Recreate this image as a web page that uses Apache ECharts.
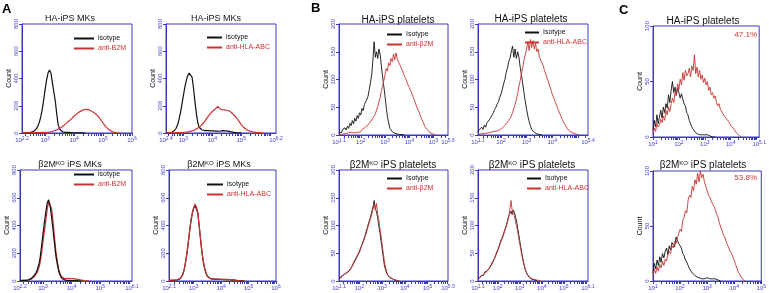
<!DOCTYPE html>
<html>
<head>
<meta charset="utf-8">
<script src="https://cdn.jsdelivr.net/npm/echarts@6/dist/echarts.min.js"></script>
<style>
html, body { margin: 0; background: #fff; }
#chart { width: 769px; height: 293px; }
</style>
</head>
<body>
<div id="chart"></div>
<script>
// histogram counts, one value per 0.05-decade bin, starting at the given log10 position
const BIN = 0.05

const a1Iso = [1,1,2,2,3,3,5,8,12,20,32,52,80,120,175,245,320,390,440,462,440,370,300,235,140,60,28,15,9,6,5,4,4,3,3,3,2,3,2,2,1,2,1,1,0]
const a1Anti = [1,1,2,1,2,2,2,3,2,3,3,4,3,4,4,5,5,6,6,7,8,11,15,18,23,27,33,40,48,56,65,74,85,96,102,116,125,132,142,148,157,160,168,166,174,168,172,162,160,152,148,138,130,116,105,88,72,58,45,34,25,18,12,7,4,2,1,1,0]
const a2Iso = [1,2,2,3,5,10,20,35,60,100,150,210,275,335,385,420,440,445,410,330,230,140,75,40,28,22,20,18,20,17,19,16,18,15,17,14,16,13,15,18,14,16,12,14,10,8,6,5,3,2,2,1,1]
const a2Anti = [0,1,1,1,2,1,2,2,3,2,3,3,4,5,6,8,10,12,15,18,23,30,37,44,52,62,75,90,105,120,135,148,158,168,176,182,196,178,190,172,185,168,178,165,168,152,145,132,120,108,92,78,62,50,38,28,22,17,14,10,8,6,5,4,3,2,1,0]
const a3Iso = [3,5,4,6,5,7,8,12,20,30,42,58,80,115,165,250,340,420,500,565,585,540,460,370,270,180,120,70,40,22,12,8,6,5,4,4,3,3,2,2,2,1,1,0]
const a3Anti = [2,3,4,3,5,6,7,9,14,22,32,45,62,90,130,195,280,360,440,520,570,580,520,430,320,215,140,85,50,30,22,18,22,20,24,18,22,17,20,14,16,10,8,6,4,3,2,1,1,0]
const a4Iso = [3,5,4,6,5,7,8,11,15,25,45,80,130,195,270,360,430,490,525,545,540,490,400,300,210,140,90,55,35,24,18,15,14,16,13,15,12,14,12,13,11,12,10,11,9,10,8,7,6,4,3,2,2,1,1,0]
const a4Anti = [4,3,6,5,7,6,9,10,16,24,48,78,135,190,275,355,440,485,530,555,535,495,395,305,205,145,88,58,33,25,17,16,13,15,14,14,13,13,11,14,10,12,11,10,10,9,9,6,7,5,3,3,1,2,0]

const b1Iso = [5,8,4,10,7,13,9,16,12,21,17,26,20,30,25,35,30,40,36,48,44,55,52,64,70,82,95,108,135,168,140,150,138,155,145,125,105,88,70,50,33,22,12,9,6,5,3,4,2,3,1,2,1,1,0]
const b1Anti = [1,2,1,3,2,1,3,2,4,2,5,3,4,6,4,7,5,8,6,10,9,13,11,16,15,21,20,27,26,34,38,45,52,60,68,80,88,98,108,120,115,130,125,138,132,146,135,148,138,132,128,122,118,112,106,102,96,90,86,80,76,70,64,58,52,46,42,36,30,25,20,15,12,9,6,5,3,2,1,1,0]
const b2Iso = [6,10,7,14,10,18,14,22,19,28,26,36,40,46,50,56,60,68,74,82,92,100,112,120,132,138,150,160,140,155,138,150,140,122,108,92,75,60,46,34,24,16,10,7,5,3,2,2,1,1,0]
const b2Anti = [2,3,2,4,3,5,3,6,4,6,5,7,6,8,7,9,8,10,11,13,15,17,20,22,26,28,34,40,48,55,64,75,88,98,112,122,135,145,155,168,152,172,158,170,155,165,150,155,140,138,130,125,116,110,102,96,88,82,74,68,62,56,50,44,38,33,28,23,19,15,11,8,6,5,4,3,2,1,1,0]
const b3Iso = [5,8,6,10,8,12,10,15,13,18,20,24,28,32,36,40,44,48,52,58,64,70,76,82,90,96,104,110,118,126,134,145,130,125,115,100,88,72,58,42,28,20,14,10,8,6,5,4,3,2,2,1,1,0]
const b3Anti = [4,6,9,7,11,9,14,12,17,19,22,26,30,33,38,42,46,50,54,60,62,68,74,80,86,94,100,108,114,122,130,138,128,140,122,110,96,82,66,50,36,25,16,11,8,6,5,4,3,2,2,1,1,0]
const b4Iso = [5,8,6,10,12,10,16,14,18,16,22,24,28,32,36,42,46,52,56,62,68,74,78,84,90,96,102,110,118,122,126,120,128,124,116,108,96,84,72,60,48,38,28,20,15,11,8,6,4,3,2,2,1,1,0]
const b4Anti = [3,5,8,6,10,12,14,12,17,20,23,26,30,34,37,40,45,50,55,60,66,72,76,82,88,95,100,108,116,130,145,128,122,118,108,100,90,78,66,56,45,36,28,21,16,12,9,7,5,4,3,3,2,2,1,1,1,0]

const c1Iso = [6,15,9,20,12,18,24,17,27,22,30,26,38,31,42,50,40,45,38,44,40,35,39,34,30,28,22,20,15,12,9,7,5,4,3,3,2,3,2,1,2,1,2,1,1,1,0,1,0]
const c1Anti = [3,8,5,12,9,11,16,13,19,15,24,20,27,23,30,35,31,40,37,48,43,52,47,58,51,60,55,57,62,54,64,60,74,57,63,54,60,52,56,49,53,47,50,42,45,38,40,35,37,31,28,30,25,26,21,19,20,16,17,13,10,11,8,6,5,3,2,1,0]
const c2Iso = [7,16,11,19,14,22,17,25,21,27,30,24,32,28,35,36,31,40,37,34,32,30,25,23,19,17,14,11,9,8,6,5,4,4,3,3,2,3,2,2,3,2,2,1,2,1,2,1,1,1,0]
const c2Anti = [4,11,7,13,9,15,12,18,14,20,18,24,27,25,32,30,36,34,39,43,47,45,55,58,64,62,74,78,76,86,82,92,88,98,90,100,94,97,90,86,82,78,76,73,70,68,65,61,58,53,49,46,42,40,36,33,30,27,25,22,19,15,12,8,6,4,2,1,0]

const BLUE = '#3a3abf'
const LABEL = '#4444cc'
const RED = '#cc3333'
const BLACK = '#111111'
const FONT = 'Liberation Sans, Arial, sans-serif'

const KO = '\u03b22M{sup|KO} iPS '

// layout of each small plot: grid box [left, top, width, height]
const panels = [
    { box: [22, 24, 110, 109], x: [2.2, 6], ticks: [2.2, 3, 4, 5, 6], y: [800, 200], title: 'HA-iPS MKs', tx: 70, ty: 19, tf: 9,
      legend: ['isotype', 'anti-B2M'], lx: 74, ly: 35, lw: 20, w: 1.2 },
    { box: [166, 24, 110, 109], x: [2.4, 6.2], ticks: [2.4, 3, 4, 5, 6.2], y: [800, 200], title: 'HA-iPS MKs', tx: 216, ty: 19, tf: 9,
      legend: ['isotype', 'anti-HLA-ABC'], lx: 207, ly: 34, lw: 15, w: 1.2 },
    { box: [20, 170, 112, 111], x: [2.2, 6.1], ticks: [2.2, 3, 4, 5, 6.1], y: [800, 200], title: KO + 'MKs', tx: 70, ty: 165, tf: 9,
      legend: ['isotype', 'anti-B2M'], lx: 74, ly: 171, lw: 20, w: 1.2 },
    { box: [169, 170, 107, 111], x: [2.1, 6], ticks: [2.1, 3, 4, 5, 6], y: [800, 200], title: KO + 'MKs', tx: 219, ty: 165, tf: 9,
      legend: ['isotype', 'anti-HLA-ABC'], lx: 207, ly: 181, lw: 16, w: 1.2 },
    { box: [339, 24, 109, 111], x: [1.1, 5.6], ticks: [1.1, 2, 3, 4, 5, 5.6], y: [200, 50], title: 'HA-iPS platelets', tx: 398, ty: 20, tf: 10,
      legend: ['Isotype', 'anti-\u03b22M'], lx: 387, ly: 31, lw: 15, w: 0.9 },
    { box: [478, 24, 110, 111], x: [1.1, 5.4], ticks: [1.1, 2, 3, 4, 5.4], y: [200, 50], title: 'HA-iPS platelets', tx: 531, ty: 19, tf: 10,
      legend: ['Isotype', 'anti-HLA-ABC'], lx: 525, ly: 29, lw: 14, w: 0.9 },
    { box: [339, 170, 109, 111], x: [1.1, 5.9], ticks: [1.1, 2, 3, 4, 5, 5.9], y: [200, 50], title: KO + 'platelets', tx: 393, ty: 165, tf: 10,
      legend: ['Isotype', 'anti-\u03b22M'], lx: 387, ly: 175, lw: 15, w: 0.9 },
    { box: [478, 170, 110, 111], x: [1.1, 6.1], ticks: [1.1, 2, 3, 4, 5, 6.1], y: [200, 50], title: KO + 'platelets', tx: 532, ty: 165, tf: 10,
      legend: ['Isotype', 'anti-HLA-ABC'], lx: 527, ly: 175, lw: 14, w: 0.9 },
    { box: [653, 26, 109, 111], x: [1, 5.1], ticks: [1, 2, 3, 4, 5.1], y: [100, 50], title: 'HA-iPS platelets', tx: 703, ty: 21, tf: 10,
      pct: '47.1%', py: 35, w: 0.9 },
    { box: [653, 171, 109, 110], x: [1, 5], ticks: [1, 2, 3, 4, 5], y: [100, 50], title: KO + 'platelets', tx: 703, ty: 165, tf: 10,
      pct: '53.8%', py: 178, w: 0.9 }
]

// [panel, series name, counts, first bin, colour]
const curves = [
    [0, 'isotype', a1Iso, 2.2, BLACK], [0, 'anti-B2M', a1Anti, 2.2, RED],
    [1, 'isotype', a2Iso, 2.4, BLACK], [1, 'anti-HLA-ABC', a2Anti, 2.4, RED],
    [2, 'anti-B2M', a3Anti, 2.2, RED], [2, 'isotype', a3Iso, 2.2, BLACK],
    [3, 'isotype', a4Iso, 2.1, BLACK], [3, 'anti-HLA-ABC', a4Anti, 2.1, RED],
    [4, 'Isotype', b1Iso, 1.1, BLACK], [4, 'anti-\u03b22M', b1Anti, 1.1, RED],
    [5, 'Isotype', b2Iso, 1.1, BLACK], [5, 'anti-HLA-ABC', b2Anti, 1.1, RED],
    [6, 'Isotype', b3Iso, 1.1, BLACK], [6, 'anti-\u03b22M', b3Anti, 1.1, RED],
    [7, 'Isotype', b4Iso, 1.1, BLACK], [7, 'anti-HLA-ABC', b4Anti, 1.1, RED],
    [8, 'C isotype', c1Iso, 1, BLACK], [8, 'C stained', c1Anti, 1, RED],
    [9, 'C isotype', c2Iso, 1, BLACK], [9, 'C stained', c2Anti, 1, RED]
]

const letters = [['A', 2, 3], ['B', 311, 2], ['C', 619, 4]]

function bins(start, counts) {
    return counts.map((c, i) => [+(start + i * BIN).toFixed(2), c])
}

// log minor tick positions between decades
function logTicks(min, max) {
    const out = []
    for (let d = Math.floor(min); d <= Math.ceil(max); d++) {
        for (let k = 1; k < 10; k++) {
            const v = d + Math.log10(k)
            if (v >= min - 1e-9 && v <= max + 1e-9) out.push(v)
        }
    }
    return out
}

const expLabel = v => '{b|10}{s|' + (Number.isInteger(v) ? v : v.toFixed(1)) + '}'

const grid = panels.map(p => ({
    left: p.box[0], top: p.box[1], width: p.box[2], height: p.box[3],
    show: true, borderColor: BLUE, borderWidth: 1, backgroundColor: 'transparent'
}))

const xAxis = panels.map((p, i) => ({
    type: 'value', gridIndex: i, min: p.x[0], max: p.x[1],
    axisLine: { show: true, onZero: false, lineStyle: { color: BLUE, width: 1 } },
    axisTick: { show: true, length: 3, customValues: logTicks(p.x[0], p.x[1]), lineStyle: { color: BLUE, width: 1 } },
    axisLabel: {
        customValues: p.ticks, formatter: expLabel, margin: 3, color: LABEL,
        rich: {
            b: { fontSize: 6, lineHeight: 8, color: LABEL, fontFamily: FONT },
            s: { fontSize: 5, lineHeight: 4, verticalAlign: 'top', color: LABEL, fontFamily: FONT }
        }
    },
    splitLine: { show: false }
}))

const yAxis = panels.map((p, i) => ({
    type: 'value', gridIndex: i, min: 0, max: p.y[0], interval: p.y[1],
    axisLine: { show: true, lineStyle: { color: BLUE, width: 1 } },
    axisTick: { show: true, length: 3, lineStyle: { color: BLUE, width: 1 } },
    axisLabel: { rotate: 90, fontSize: 6, color: LABEL, margin: 3, fontFamily: FONT },
    splitLine: { show: false },
    name: 'Count', nameLocation: 'middle', nameRotate: 90, nameGap: 9,
    nameTextStyle: { fontSize: 7, color: '#111', fontFamily: FONT }
}))

const series = curves.map(([pi, name, counts, start, color]) => ({
    type: 'line', name, xAxisIndex: pi, yAxisIndex: pi,
    data: bins(start, counts),
    showSymbol: false, symbol: 'none', silent: true,
    itemStyle: { color },
    lineStyle: { color, width: panels[pi].w }
}))

const legend = panels.filter(p => p.legend).map(p => ({
    orient: 'vertical', left: p.lx, top: p.ly, padding: 0,
    icon: 'rect', itemWidth: p.lw, itemHeight: 2, itemGap: 3,
    selectedMode: false,
    textStyle: { fontSize: 7, fontFamily: FONT, padding: [0, 0, 0, -1] },
    data: [
        { name: p.legend[0], textStyle: { color: '#111' } },
        { name: p.legend[1], textStyle: { color: RED } }
    ]
}))

const graphic = []
panels.forEach(p => {
    graphic.push({
        type: 'text', x: p.tx, y: p.ty, silent: true,
        style: {
            text: p.title, fill: '#111', fontSize: p.tf, fontFamily: FONT,
            textAlign: 'center', textVerticalAlign: 'middle', align: 'center', verticalAlign: 'middle',
            rich: { sup: { fontSize: 6, lineHeight: 6, verticalAlign: 'top', fill: '#111', fontFamily: FONT } }
        }
    })
    if (p.pct) {
        graphic.push({
            type: 'text', x: 757, y: p.py, silent: true,
            style: { text: p.pct, fill: RED, fontSize: 8, fontFamily: FONT,
                textAlign: 'right', textVerticalAlign: 'middle', align: 'right', verticalAlign: 'middle' }
        })
    }
})
letters.forEach(([t, x, y]) => {
    graphic.push({
        type: 'text', x, y, silent: true,
        style: { text: t, fill: '#000', fontSize: 13, fontWeight: 'bold', fontFamily: FONT,
            textVerticalAlign: 'top', verticalAlign: 'top' }
    })
})

const chart = echarts.init(document.getElementById('chart'), null, { renderer: 'canvas' })
chart.setOption({
    animation: false,
    backgroundColor: '#fff',
    grid, xAxis, yAxis, series, legend, graphic
})
</script>
</body>
</html>
